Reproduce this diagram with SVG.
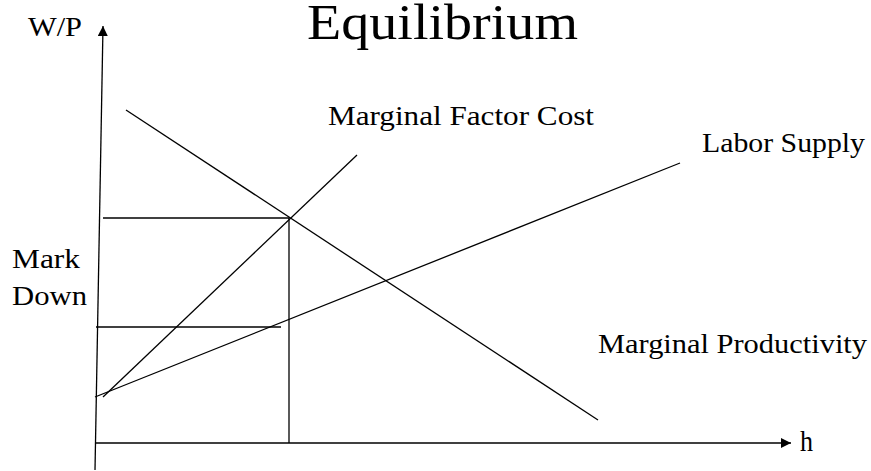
<svg xmlns="http://www.w3.org/2000/svg" width="871" height="471" viewBox="0 0 871 471">
  <style>
    .ln { stroke: #000; stroke-width: 1.3; fill: none; }
    .t { font-family: "Liberation Serif", "Times New Roman", serif; fill: #000; }
    .lab { font-size: 28px; }
  </style>
  <defs>
    <marker id="ah" viewBox="0 0 10 10" refX="10" refY="5" markerWidth="10" markerHeight="10" markerUnits="userSpaceOnUse" orient="auto">
      <path d="M0,0 L10,5 L0,10 Z" fill="#000"/>
    </marker>
  </defs>
  <rect width="871" height="471" fill="#fff"/>
  <g id="title">
    <text class="t" x="307" y="39" font-size="50" textLength="271" lengthAdjust="spacingAndGlyphs">Equilibrium</text>
  </g>
  <g id="axes">
    <line class="ln" x1="95" y1="470" x2="103" y2="26" marker-end="url(#ah)"/>
    <line class="ln" x1="95" y1="443" x2="791" y2="443" marker-end="url(#ah)"/>
    <text class="t lab" x="28" y="36" textLength="54" lengthAdjust="spacingAndGlyphs">W/P</text>
    <text class="t" x="800" y="451" font-size="30" textLength="13" lengthAdjust="spacingAndGlyphs">h</text>
  </g>
  <g id="marginal-productivity">
    <line class="ln" x1="126" y1="110" x2="598" y2="420"/>
    <text class="t lab" x="598" y="353" textLength="269" lengthAdjust="spacingAndGlyphs">Marginal Productivity</text>
  </g>
  <g id="marginal-factor-cost">
    <line class="ln" x1="103" y1="397" x2="357" y2="155"/>
    <text class="t lab" x="328" y="125" textLength="266" lengthAdjust="spacingAndGlyphs">Marginal Factor Cost</text>
  </g>
  <g id="labor-supply">
    <line class="ln" x1="95" y1="397" x2="680" y2="163"/>
    <text class="t lab" x="702" y="152" textLength="163" lengthAdjust="spacingAndGlyphs">Labor Supply</text>
  </g>
  <g id="guides">
    <line class="ln" x1="103" y1="218" x2="289" y2="218"/>
    <line class="ln" x1="289" y1="218" x2="289" y2="443"/>
    <line class="ln" x1="96" y1="327" x2="281" y2="327"/>
  </g>
  <g id="mark-down">
    <text class="t lab" x="12" y="268" textLength="68" lengthAdjust="spacingAndGlyphs">Mark</text>
    <text class="t lab" x="12" y="305" textLength="75" lengthAdjust="spacingAndGlyphs">Down</text>
  </g>
</svg>
